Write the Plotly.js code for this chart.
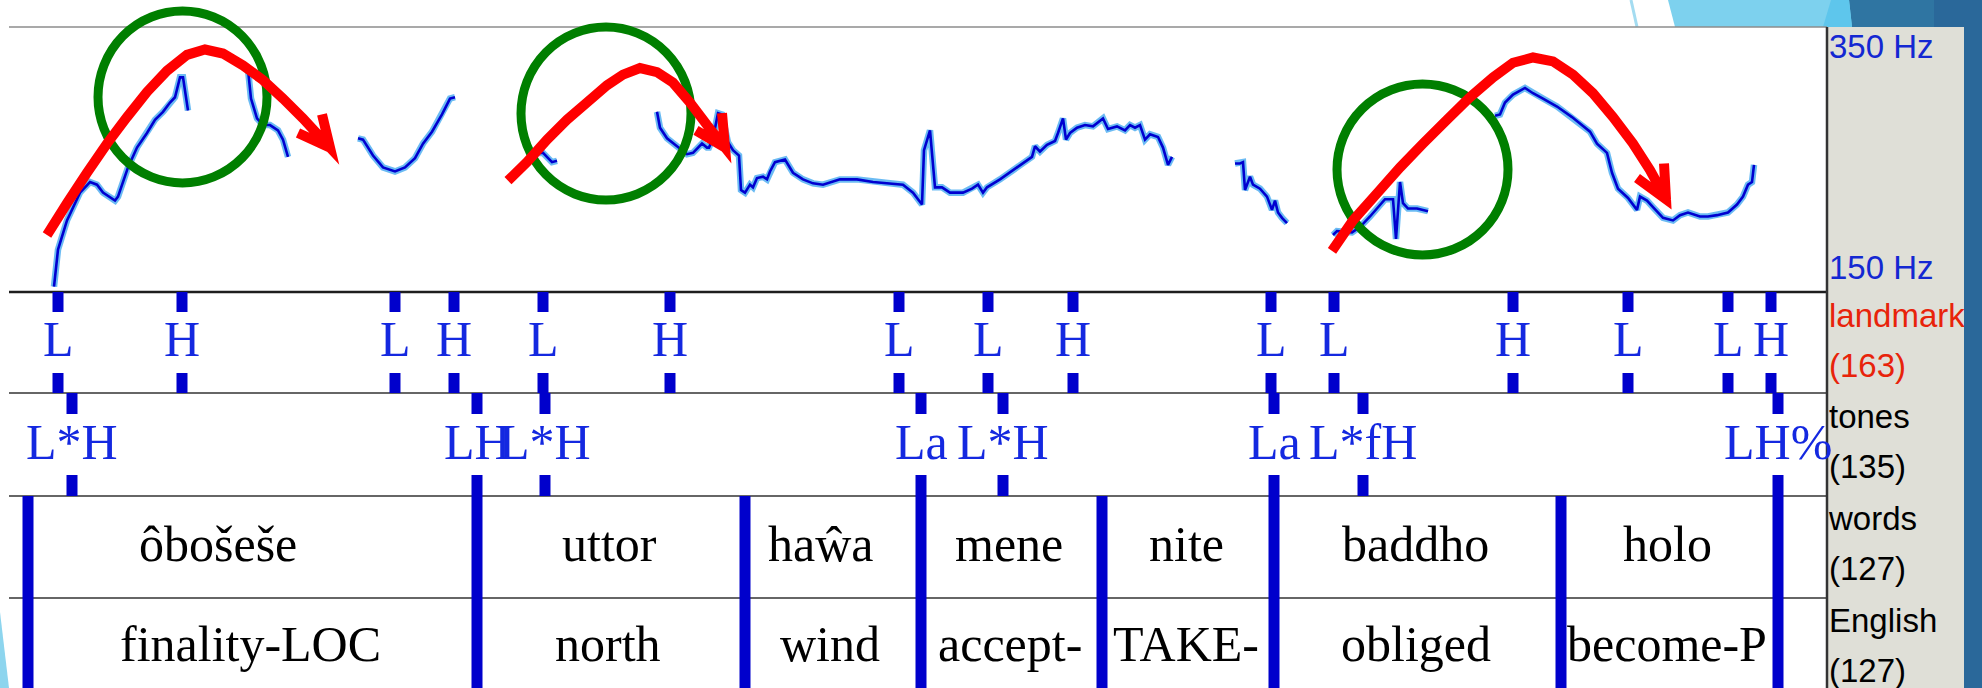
<!DOCTYPE html>
<html><head><meta charset="utf-8">
<script src="https://cdn.plot.ly/plotly-3.0.1.min.js"></script>
<style>html,body{margin:0;padding:0;background:#fff;overflow:hidden}</style>
</head><body><div id="chart" style="width:1982px;height:688px"></div>
<script>
// ---------- DATA (time in s, pitch in Hz) ----------
const pitchTime = [
  0.090,0.098,0.116,0.142,0.162,0.176,0.188,0.212,0.218,0.238,0.256,0.276,0.292,0.308,0.322,0.332,0.342,0.348,0.358, null,
  0.478,0.484,0.496,0.508,0.522,0.538,0.548,0.558, null,
  0.698,0.708,0.728,0.748,0.772,0.792,0.812,0.828,0.846,0.866,0.882,0.892, null,
  1.056,1.068,1.086,1.096, null,
  1.296,1.302,1.316,1.338,1.356,1.368,1.386,1.396,1.400,1.408,1.418,1.426,1.438,1.448,1.460,1.464,1.472,1.482,1.488,1.496,
  1.508,1.516,1.522,1.532,1.552,1.568,1.588,1.608,1.628,1.662,1.696,1.728,1.762,1.788,1.808,1.826,1.830,1.842,1.852,1.866,
  1.882,1.908,1.926,1.938,1.948,1.956,1.982,2.008,2.036,2.046,2.052,2.062,2.076,2.092,2.098,2.108,2.114,2.122,2.136,2.152,
  2.168,2.188,2.198,2.216,2.232,2.242,2.252,2.262,2.272,2.282,2.298,2.308,2.318,2.326, null,
  2.452,2.462,2.468,2.472,2.482,2.488,2.502,2.516,2.526,2.532,2.538,2.546,2.556, null,
  2.648,2.656,2.686,2.702,2.722,2.742,2.752,2.768,2.774,2.782,2.788,2.798,2.816,2.838, null,
  2.972,2.982,2.992,3.008,3.032,3.048,3.068,3.096,3.126,3.146,3.162,3.176,3.196,3.206,3.218,3.238,3.256,3.262,3.276,3.288,
  3.308,3.328,3.342,3.358,3.382,3.398,3.416,3.438,3.456,3.468,3.478,3.486,3.490
];
const pitchHz = [
  154,182,204,225,233,231,225,219,222,244,259,270,280,286,293,297,312,312,287, null,
  318,296,281,276,276,272,265,252, null,
  266,265,253,244,241,244,251,262,271,284,296,297, null,
  255,255,248,249, null,
  286,274,266,259,254,255,262,259,259,266,285,284,263,257,253,227,225,231,229,236,
  237,235,241,248,250,240,235,232,231,235,235,233,232,231,225,216,257,272,229,229,
  225,225,228,231,225,229,235,242,250,252,260,256,261,264,270,281,265,270,274,276,
  275,281,273,275,272,276,274,276,265,269,267,259,246,252, null,
  247,247,248,227,237,231,228,222,212,219,210,206,202, null,
  193,196,195,199,207,216,220,220,190,233,217,213,213,211, null,
  283,284,293,299,304,300,296,290,282,276,271,262,255,240,228,221,212,222,219,214,
  206,204,208,210,207,207,208,210,216,222,231,233,246
];
const landmarkLabels = ['L','H','L','H','L','H','L','L','H','L','L','H','L','L','H'];
const landmarkTimes  = [0.098,0.346,0.772,0.890,1.068,1.322,1.780,1.958,2.128,2.524,2.650,3.008,3.238,3.438,3.524];
const toneLabels = ['L*H','LH','L*H','La','L*H','La','L*fH','LH%'];
const toneTimes  = [0.126,0.936,1.072,1.824,1.988,2.530,2.708,3.538];
const wordBoundaries = [0.038,0.936,1.472,1.824,2.186,2.530,3.104,3.538];
const words     = ['ôbošeše','uttor','haŵa','mene','nite','baddho','holo'];
const wordTimes = [0.418,1.200,1.624,2.000,2.354,2.812,3.316];
const glosses    = ['finality-LOC','north','wind','accept-','TAKE-','obliged','become-P'];
const glossTimes = [0.482,1.198,1.642,2.002,2.354,2.814,3.316];
const tierNames  = ['landmark','tones','words','English'];
const tierCounts = [163,135,127,127];
const pitchRangeLabels = ['350 Hz','150 Hz'];
// hand-drawn overlay marks (time, Hz)
const circleT0  = [0.178,1.024,2.656];
const circleT1  = [0.516,1.364,2.998];
const circleHz0 = [232.3,219.4,177.9];
const circleHz1 = [362.1,350.0,307.0];
const arrow1T  = [0.076,0.116,0.156,0.196,0.236,0.276,0.316,0.356,0.392,0.428,0.468,0.508,0.548,0.588,0.622,0.642,0.626,0.642,0.578];
const arrow1Hz = [193,217,240,262,282,301,317,329,333,330,321,310,296,281,267,259,284,259,270];
const arrow2T  = [0.998,1.036,1.076,1.116,1.156,1.196,1.228,1.262,1.296,1.328,1.362,1.396,1.432,1.426,1.432,1.374];
const arrow2Hz = [234,248,265,280,293,306,314,319,316,308,293,276,259,285,259,272];
const arrow3T  = [2.646,2.688,2.742,2.782,2.828,2.876,2.922,2.968,3.008,3.048,3.088,3.128,3.168,3.208,3.248,3.282,3.314,3.310,3.314,3.256];
const arrow3Hz = [181,204,227,244,262,280,297,312,323,327,324,314,300,282,262,242,220,247,220,236];

// ---------- LAYOUT GEOMETRY (pixels) ----------
const W = 1982, H = 688;
const X_RANGE = [-0.018, 3.946], Y_RANGE = [-148.87, 370.38];
const py = p => 1 - p / H;
const px = p => p / W;
const dataX = p => X_RANGE[0] + p / W * (X_RANGE[1] - X_RANGE[0]);
const dataY = p => Y_RANGE[1] - p / H * (Y_RANGE[1] - Y_RANGE[0]);
const LEFT = 9, RIGHT = 1827, PANEL_R = 1964;
const Y_TOP = 27, Y_T1 = 292, Y_T2 = 393, Y_T3 = 496, Y_T4 = 598;
const TICK_BLUE = '#0000cc', TEXT_BLUE = '#1428e0';

const shapes = [];
// right grey panel and slide decorations
shapes.push({type:'rect', xref:'paper', yref:'paper', x0:px(RIGHT), x1:px(PANEL_R), y0:0, y1:py(Y_TOP), fillcolor:'#dfdfd7', line:{width:0}, layer:'below'});
shapes.push({type:'rect', xref:'paper', yref:'paper', x0:px(PANEL_R), x1:1, y0:0, y1:py(Y_TOP), fillcolor:'#2a689a', line:{width:0}, layer:'above'});
shapes.push({type:'rect', xref:'paper', yref:'paper', x0:px(1849), x1:px(1934), y0:py(Y_TOP), y1:1, fillcolor:'#2f75a2', line:{width:0}, layer:'below'});
shapes.push({type:'rect', xref:'paper', yref:'paper', x0:px(1934), x1:1, y0:py(Y_TOP), y1:1, fillcolor:'#2a689a', line:{width:0}, layer:'below'});
shapes.push({type:'path', xref:'paper', yref:'paper', path:`M ${px(1668)},1 L ${px(1849)},1 L ${px(1852)},${py(Y_TOP)} L ${px(1675)},${py(Y_TOP)} Z`, fillcolor:'#7dd1ee', line:{width:0}, layer:'below'});
shapes.push({type:'path', xref:'paper', yref:'paper', path:`M ${px(1831)},1 L ${px(1849)},1 L ${px(1852)},${py(Y_TOP)} L ${px(1823)},${py(Y_TOP)} Z`, fillcolor:'#5ec6ec', line:{width:0}, layer:'below'});
shapes.push({type:'path', xref:'paper', yref:'paper', path:`M ${px(1631)},1 L ${px(1637)},${py(Y_TOP)}`, line:{color:'#a4dcf1', width:3}, layer:'below'});
shapes.push({type:'path', xref:'paper', yref:'paper', path:`M 0,${py(612)} L ${px(9)},0 L 0,0 Z`, fillcolor:'#8dd5ee', line:{width:0}, layer:'below'});
// tier lines
const hline = (y, color, w) => shapes.push({type:'line', xref:'paper', yref:'paper', x0:px(LEFT), x1:px(RIGHT), y0:py(y), y1:py(y), line:{color:color, width:w}});
hline(Y_TOP, '#8c8c8c', 1.5);
hline(Y_T1, '#1e1e1e', 2.5);
hline(Y_T2, '#333333', 1.6);
hline(Y_T3, '#333333', 1.6);
hline(Y_T4, '#333333', 1.6);
shapes.push({type:'line', xref:'paper', yref:'paper', x0:px(RIGHT), x1:px(RIGHT), y0:0, y1:py(Y_TOP), line:{color:'#333', width:2.5}});
// ticks
const vtick = (t, a, b) => shapes.push({type:'line', xref:'x', yref:'paper', x0:t, x1:t, y0:py(a), y1:py(b), line:{color:TICK_BLUE, width:11}});
landmarkTimes.forEach(t => { vtick(t, Y_T1, 312); vtick(t, 373, Y_T2); });
toneTimes.forEach(t => { vtick(t, Y_T2, 414); vtick(t, 475, Y_T3); });
wordBoundaries.forEach(t => vtick(t, Y_T3, H));
// green circles
circleT0.forEach((t, i) => shapes.push({type:'circle', xref:'x', yref:'y', x0:t, x1:circleT1[i], y0:circleHz0[i], y1:circleHz1[i], line:{color:'#007f00', width:9}}));
// red arrows
const pathOf = (ts, hs) => 'M ' + ts.map((t, i) => `${t},${hs[i]}`).join(' L ');
[[arrow1T, arrow1Hz], [arrow2T, arrow2Hz], [arrow3T, arrow3Hz]].forEach(([ts, hs]) =>
  shapes.push({type:'path', xref:'x', yref:'y', path:pathOf(ts, hs), line:{color:'#ff0000', width:10}}));

// tier text
const annotations = [];
const serif = 'Liberation Serif, Times New Roman, serif';
const sans = 'Liberation Sans, Arial, sans-serif';
const tierText = (labels, times, yc, color) => labels.forEach((s, i) => annotations.push({
  text:s, x:times[i], xref:'x', y:py(yc), yref:'paper', xanchor:'center', yanchor:'middle', showarrow:false,
  borderpad:0, font:{family:serif, size:50, color:color}}));
tierText(landmarkLabels, landmarkTimes, 339, TEXT_BLUE);
tierText(toneLabels, toneTimes, 442, TEXT_BLUE);
tierText(words, wordTimes, 544, '#000');
tierText(glosses, glossTimes, 644, '#000');

// right panel labels (a text trace so the slide's edge strip can cover them)
const panelLabels = [pitchRangeLabels[0], pitchRangeLabels[1]];
const panelYpx = [50, 271];
const panelColors = ['#1428d2', '#1428d2'];
const nameY = [319, 420, 522, 624];
tierNames.forEach((n, i) => {
  const c = i === 0 ? '#e8230a' : '#000';
  panelLabels.push(n, '(' + tierCounts[i] + ')');
  panelYpx.push(nameY[i], nameY[i] + 50);
  panelColors.push(c, c);
});

const traces = [
  {x:pitchTime, y:pitchHz, mode:'lines', line:{color:'rgba(70,170,240,0.8)', width:6.5}, connectgaps:false, hoverinfo:'skip'},
  {x:pitchTime, y:pitchHz, mode:'lines', line:{color:'#0000d0', width:2.6}, connectgaps:false, hoverinfo:'skip'},
  {x:panelLabels.map(() => dataX(1829)), y:panelYpx.map(dataY), mode:'text', text:panelLabels, textposition:'middle right',
   textfont:{family:sans, size:33, color:panelColors}, cliponaxis:false, hoverinfo:'skip'}
];
const layout = {
  width:W, height:H, margin:{l:0, r:0, t:0, b:0, pad:0},
  paper_bgcolor:'#ffffff', plot_bgcolor:'rgba(0,0,0,0)', showlegend:false,
  xaxis:{range:X_RANGE, visible:false, fixedrange:true},
  yaxis:{range:Y_RANGE, visible:false, fixedrange:true},
  shapes:shapes, annotations:annotations
};
Plotly.newPlot('chart', traces, layout, {displayModeBar:false, staticPlot:true});
</script></body></html>
